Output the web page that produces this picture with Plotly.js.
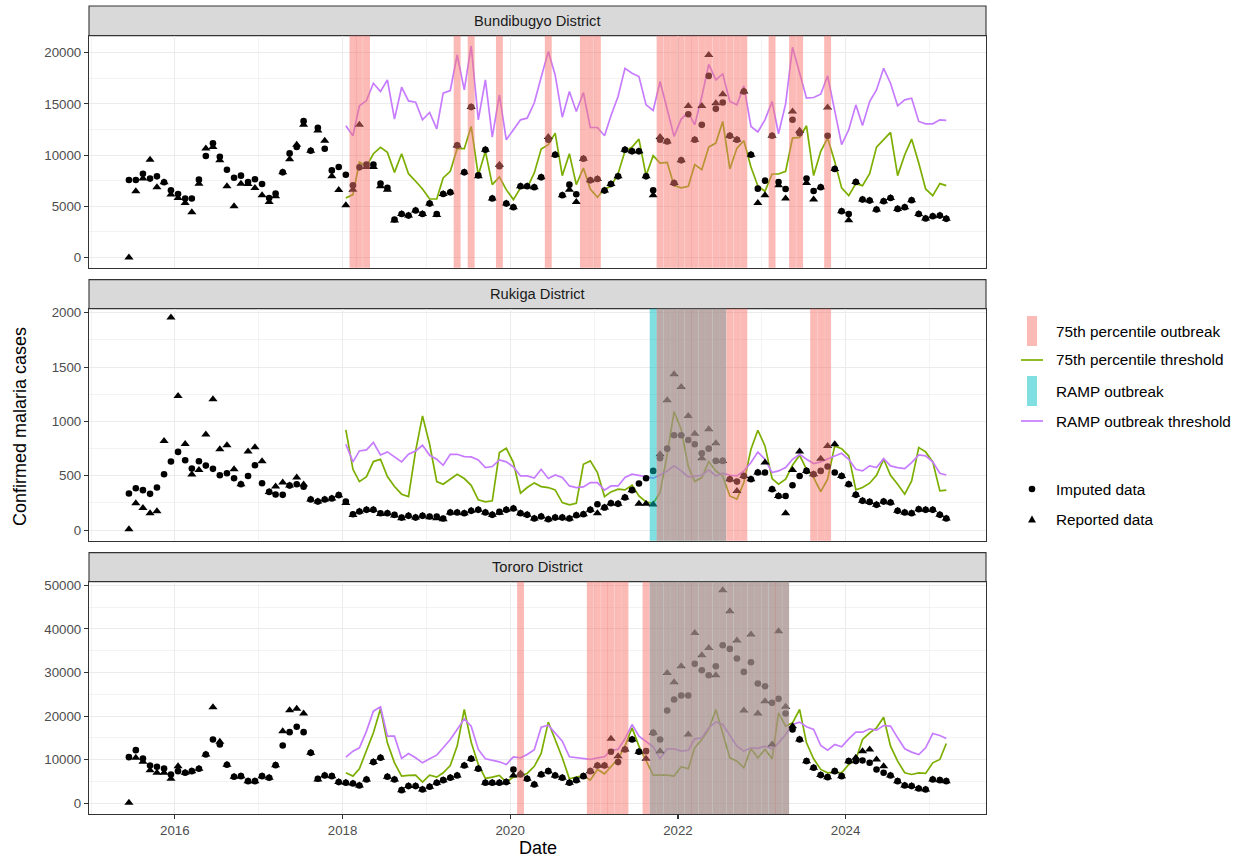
<!DOCTYPE html>
<html><head><meta charset="utf-8">
<script src="https://cdn.plot.ly/plotly-3.0.1.min.js"></script>
<style>html,body{margin:0;padding:0;background:#fff}#chart{width:1244px;height:860px}</style>
</head><body><div id="chart"></div>
<script>
// ---------------- DATA ----------------
const months = [
"2015-06","2015-07","2015-08","2015-09","2015-10","2015-11","2015-12",
"2016-01","2016-02","2016-03","2016-04","2016-05","2016-06","2016-07","2016-08","2016-09","2016-10","2016-11","2016-12",
"2017-01","2017-02","2017-03","2017-04","2017-05","2017-06","2017-07","2017-08","2017-09","2017-10","2017-11","2017-12",
"2018-01","2018-02","2018-03","2018-04","2018-05","2018-06","2018-07","2018-08","2018-09","2018-10","2018-11","2018-12",
"2019-01","2019-02","2019-03","2019-04","2019-05","2019-06","2019-07","2019-08","2019-09","2019-10","2019-11","2019-12",
"2020-01","2020-02","2020-03","2020-04","2020-05","2020-06","2020-07","2020-08","2020-09","2020-10","2020-11","2020-12",
"2021-01","2021-02","2021-03","2021-04","2021-05","2021-06","2021-07","2021-08","2021-09","2021-10","2021-11","2021-12",
"2022-01","2022-02","2022-03","2022-04","2022-05","2022-06","2022-07","2022-08","2022-09","2022-10","2022-11","2022-12",
"2023-01","2023-02","2023-03","2023-04","2023-05","2023-06","2023-07","2023-08","2023-09","2023-10","2023-11","2023-12",
"2024-01","2024-02","2024-03","2024-04","2024-05","2024-06","2024-07","2024-08","2024-09","2024-10","2024-11","2024-12",
"2025-01","2025-02","2025-03"];
const thresholdMonths = months.slice(months.indexOf("2018-01"));

const districtNames = ["Bundibugyo District","Rukiga District","Tororo District"];

const bundibugyoImputed = [7560,7560,8180,7700,7920,7340,6560,
6200,5750,5750,7600,9900,11140,9840,8570,7790,7990,7370,7630,
7180,5810,6230,8310,10160,10780,13310,10420,12660,10620,8500,8830,
8080,7050,8800,9060,9060,7210,6790,3700,4250,4090,4580,4250,
5260,4250,6200,6360,10940,8310,14680,8020,10520,5750,8900,5260,
4900,6950,6950,6850,7820,11500,10030,6070,7110,6170,9640,7530,
7660,6530,7180,7920,10520,10360,10360,7920,6560,11500,11330,7270,
9480,13990,11490,12950,17730,14510,15130,11880,11490,16200,10030,6720,
7500,11880,7370,6690,13440,12140,7700,6490,6850,11880,8640,4510,
4250,7370,5650,5550,4680,5490,5810,4740,4900,5580,4250,3800,
4030,4090,3770];
const bundibugyoReported = [0,6460,7700,9550,6850,7340,6140,
5810,5320,4420,7200,10650,10780,9480,6950,5000,7200,7180,6790,
6070,5420,5970,8310,9580,11000,12950,10420,12400,11400,7920,6590,
5100,6620,12950,8830,8830,6950,6620,3600,4250,4090,4580,4250,
5260,4150,6200,6360,10940,8310,14680,7920,10520,5750,9060,5260,
4900,6950,6950,6850,7820,11750,10030,6070,6620,5420,9640,7530,
7660,6530,7180,7920,10520,10360,10360,7920,6070,11750,11330,7270,
9480,14800,11490,14800,19770,15060,15940,11880,11490,16200,10030,5320,
6070,11880,7050,5750,14250,12370,7270,5650,6850,14640,8640,4510,
3640,7370,5650,5550,4680,5490,5810,4740,4900,5580,4250,3800,
4030,4090,3770];
const bundibugyoThreshold75 = [5810,6140,9320,8900,10130,10750,10260,8310,10130,8180,7440,6690,
5710,5710,7760,8410,10620,10620,12790,8020,10360,7110,7860,6620,
5650,6790,6790,8250,10580,11010,12140,7990,10130,7110,8730,6690,
5880,6690,6950,8180,10360,10780,11560,7990,9940,9220,9290,7010,
6790,6950,9060,8570,10780,11170,13280,8640,10680,11400,8830,6980,
6460,8150,8150,8410,11660,11720,12860,7990,10360,11660,9380,6790,
6040,7210,7010,8180,10780,11490,12210,7990,10030,11560,9220,6690,
6040,7210,7010];
const bundibugyoThresholdRamp = [12860,11880,14810,15320,17010,16200,17340,13510,16620,15290,15160,13440,
14160,12560,16040,16300,19770,16360,20650,13440,17340,11750,15880,11490,
12470,13440,13600,15100,17600,20100,17820,13700,16200,14250,16100,12690,
12690,11880,13830,15710,18470,17990,17660,14900,14350,17180,14480,11820,
13510,14160,12950,15710,18860,17340,17920,15230,14900,16750,12790,12260,
13440,15230,12080,15000,20520,17990,15550,15620,15940,17730,14420,11010,
12470,14900,12890,15230,16360,18470,17010,14810,15390,15550,13280,13050,
13050,13440,13380];
const bundibugyoOutbreak75 = ["2018-02","2018-03","2018-04","2019-05","2019-07","2019-11","2020-06",
"2020-11","2020-12","2021-01",
"2021-10","2021-11","2021-12","2022-01","2022-02","2022-03","2022-04","2022-05","2022-06","2022-07","2022-08","2022-09","2022-10",
"2023-02","2023-05","2023-06","2023-10"];
const bundibugyoOutbreakRamp = [];

const rukigaImputed = [337,386,368,334,392,515,631,
720,643,567,634,594,564,505,524,478,423,499,597,
432,352,328,325,410,423,400,282,263,282,291,322,
263,147,172,187,187,156,156,141,116,132,116,132,
126,125,107,162,162,156,178,187,162,141,168,187,
199,156,141,107,126,101,116,116,107,138,147,187,
239,208,248,242,300,368,429,478,545,662,750,873,
873,830,790,707,750,637,637,469,447,499,469,530,
530,377,315,315,413,499,545,515,545,585,530,499,
423,325,270,260,233,263,254,178,162,156,193,187,
187,141,107];
const rukigaReported = [9,248,205,156,175,821,1957,
1234,793,511,554,879,1204,744,781,560,423,723,763,
634,352,401,438,410,484,420,282,263,282,291,322,
250,140,172,187,187,150,156,135,110,132,116,132,
120,110,100,162,162,156,178,187,162,141,160,187,
199,156,141,107,126,101,116,116,107,138,147,187,
156,208,248,242,300,368,242,242,236,698,1194,1433,
1317,1050,888,662,928,799,637,469,361,499,469,530,
622,377,315,156,554,723,545,515,658,775,790,499,
423,325,270,260,233,263,254,178,162,156,193,187,
187,141,107];
const rukigaThreshold75 = [922,560,447,493,631,652,493,401,331,309,729,1051,
790,447,423,469,515,475,413,279,260,270,714,753,
622,340,392,435,401,392,371,254,233,248,606,637,
530,309,352,377,371,413,315,260,245,346,698,1090,
928,585,447,484,631,545,499,315,285,438,744,919,
775,475,423,469,597,689,560,484,355,469,775,750,
683,371,392,432,505,652,505,423,331,453,760,720,
628,361,368];
const rukigaThresholdRamp = [790,628,729,738,806,692,720,677,628,698,729,781,
689,652,597,698,698,677,674,646,576,585,646,628,
582,499,499,480,560,475,508,484,407,392,398,438,
438,368,407,407,484,515,505,493,478,508,545,591,
545,490,499,505,554,499,524,505,499,545,622,718,
652,530,545,576,652,698,652,613,628,658,683,707,
652,560,545,591,576,658,591,576,567,622,692,683,
628,524,508];
const rukigaOutbreak75 = ["2021-10","2021-11","2021-12","2022-01","2022-02","2022-03","2022-04","2022-05","2022-06","2022-07","2022-08","2022-09","2022-10",
"2023-08","2023-09","2023-10"];
const rukigaOutbreakRamp = ["2021-09","2021-10","2021-11","2021-12","2022-01","2022-02","2022-03","2022-04","2022-05","2022-06","2022-07"];

const tororoImputed = [10610,12210,10300,8700,8400,8020,6640,
7400,7020,7400,7940,11220,14660,13510,8860,6110,6260,5110,5110,
6260,5880,8780,13280,16340,17560,16340,11600,5650,6410,6260,4890,
4730,4580,4120,5500,9470,10460,6110,5500,3050,3970,3970,3210,
3820,4730,5340,5880,6410,8700,10230,7940,4730,4730,4730,4890,
7790,6640,5650,4350,6640,7400,6410,5880,4730,5340,6260,7400,
8700,8700,11830,9470,12370,14660,11830,11990,16180,14660,21300,23820,
24730,24730,31990,30540,29390,31450,36260,35420,33210,30150,32370,27480,
26870,23050,23970,20610,16950,14660,9690,8170,6490,6030,7400,6260,
9690,9690,9850,9310,7790,7020,6410,5110,4120,3970,3440,3210,
5500,5340,5110];
const tororoReported = [150,10460,9540,7630,7020,7020,5650,
8550,7020,7400,7940,11220,22060,14120,8860,6110,6260,5110,5110,
6260,5880,8780,16570,21380,21680,20610,11600,5500,6410,6260,4890,
4730,4580,4120,5500,9470,10460,6110,5500,3050,3970,3970,3210,
3820,4730,5340,5880,6410,8700,10230,7940,4730,4730,4730,4890,
6410,6870,5650,4350,6640,7400,6410,5880,4730,5340,6260,7400,
8700,8700,14810,10840,12370,14660,11830,10230,16180,11990,29920,27790,
31450,15800,39090,33970,35650,29390,48860,44050,37330,21300,38700,20610,
23440,13510,39470,22140,17710,14660,9690,8170,6490,6030,7400,6260,
9690,10460,11990,12370,10080,8550,6410,5110,4120,3970,3440,3210,
5500,5340,5110];
const tororoThreshold75 = [7020,6260,7940,11990,16180,21680,13890,9310,6260,6410,6490,4890,
6490,6030,7020,8700,13130,21530,14050,8930,5730,6030,6410,4890,
6030,6410,6870,8500,11450,18630,14660,10460,5650,6030,6410,5340,
7790,6790,8400,10230,13130,17330,13130,9920,6490,6490,6490,6260,
8400,7940,12750,14660,16950,21530,15800,10460,9690,8170,12600,10460,
12370,10230,20760,17710,18470,21530,13890,10230,7790,7020,7180,7020,
8930,10080,14660,16180,17330,19770,13130,9690,7020,6640,7020,6870,
9310,10080,13740];
const tororoThresholdRamp = [10610,11990,12750,16570,21150,22140,15420,15420,10310,11450,10460,9310,
10230,11070,12750,14660,16950,19390,17710,12370,10230,9920,9540,8930,
10690,10460,11220,12290,17450,17940,16180,14280,10690,10460,10230,10080,
10460,10690,12210,12370,14810,18090,15420,14280,12980,10230,12520,12520,
11990,12210,14810,15040,17330,18700,18090,15570,13130,11990,12750,12640,
13130,12520,13890,15800,18090,18630,17560,16950,13280,12210,13510,12980,
14810,16340,16340,17100,16800,17860,17710,15040,12520,11760,11220,12750,
16030,15570,14890];
const tororoOutbreak75 = ["2020-02","2020-12","2021-01","2021-02","2021-03","2021-04","2021-05",
"2021-08","2021-09","2021-10","2021-11","2021-12","2022-01","2022-02","2022-03","2022-04","2022-05","2022-06",
"2022-07","2022-08","2022-09","2022-10","2022-11","2022-12","2023-01","2023-02","2023-03","2023-04"];
const tororoOutbreakRamp = ["2021-09","2021-10","2021-11","2021-12","2022-01","2022-02","2022-03","2022-04","2022-05","2022-06",
"2022-07","2022-08","2022-09","2022-10","2022-11","2022-12","2023-01","2023-02","2023-03","2023-04"];

const xTickLabels = ["2016","2018","2020","2022","2024"];
const xMinorYears = ["2015","2017","2019","2021","2023","2025"];
const bundibugyoTicks = [0,5000,10000,15000,20000];
const bundibugyoMinor = [2500,7500,12500,17500];
const rukigaTicks = [0,500,1000,1500,2000];
const rukigaMinor = [250,750,1250,1750];
const tororoTicks = [0,10000,20000,30000,40000,50000];
const tororoMinor = [5000,15000,25000,35000,45000];

const legendLabels = ["75th percentile outbreak","75th percentile threshold","RAMP outbreak","RAMP outbreak threshold","Imputed data","Reported data"];

// ---------------- STYLE / BUILD ----------------
const C75 = "#7CAE00", CRAMP = "#C77CFF";
const FILL75 = "rgba(248,118,109,0.5)", FILLRAMP = "rgba(0,191,196,0.5)";
const FONT = '"Liberation Sans", Arial, Helvetica, sans-serif';
const TICK_SIZE = 13.3, STRIP_SIZE = 14.7, LEGEND_SIZE = 15.3, TITLE_SIZE = 18;
const mid = m => m + "-15";
function shiftDays(m, d){const p=m.split("-").map(Number);return new Date(Date.UTC(p[0],p[1]-1,15)+d*86400000).toISOString().slice(0,10);}

const districts = [
 {imputed:bundibugyoImputed, reported:bundibugyoReported, t75:bundibugyoThreshold75, tr:bundibugyoThresholdRamp, o75:bundibugyoOutbreak75, or:bundibugyoOutbreakRamp, ticks:bundibugyoTicks, minor:bundibugyoMinor, range:[-1000,21650], dom:[0.6761,0.9632]},
 {imputed:rukigaImputed, reported:rukigaReported, t75:rukigaThreshold75, tr:rukigaThresholdRamp, o75:rukigaOutbreak75, or:rukigaOutbreakRamp, ticks:rukigaTicks, minor:rukigaMinor, range:[-97,2037], dom:[0.3382,0.6254]},
 {imputed:tororoImputed, reported:tororoReported, t75:tororoThreshold75, tr:tororoThresholdRamp, o75:tororoOutbreak75, or:tororoOutbreakRamp, ticks:tororoTicks, minor:tororoMinor, range:[-2420,50820], dom:[0,0.2875]}
];
const stripDom = [[0.9632,1.0],[0.6254,0.6614],[0.2875,0.3235]];

const traces = [], shapes = [], annotations = [];
const layout = {
  width:1244, height:860,
  margin:{l:89, r:258, t:6, b:46},
  paper_bgcolor:"#ffffff", plot_bgcolor:"#ffffff",
  font:{family:FONT, color:"#000000"},
  showlegend:false, hovermode:false
};
const xRange = ["2014-12-23","2025-09-04"];

districts.forEach((d, k) => {
  const s = k === 0 ? "" : String(k+1);
  const xa = "x"+s, ya = "y"+s;
  traces.push({type:"scatter", mode:"lines", x:thresholdMonths.map(mid), y:d.t75, xaxis:xa, yaxis:ya, line:{color:C75, width:1.7}});
  traces.push({type:"scatter", mode:"lines", x:thresholdMonths.map(mid), y:d.tr, xaxis:xa, yaxis:ya, line:{color:CRAMP, width:1.7}});
  traces.push({type:"scatter", mode:"markers", x:months.map(mid), y:d.reported, xaxis:xa, yaxis:ya, marker:{symbol:"triangle-up", size:8, color:"#000000"}});
  traces.push({type:"scatter", mode:"markers", x:months.map(mid), y:d.imputed, xaxis:xa, yaxis:ya, marker:{symbol:"circle", size:6.6, color:"#000000"}});
  d.or.forEach(m => shapes.push({type:"rect", xref:xa, yref:ya+" domain", x0:shiftDays(m,-15), x1:shiftDays(m,15), y0:0, y1:1, fillcolor:FILLRAMP, line:{width:0}, layer:"above"}));
  d.o75.forEach(m => shapes.push({type:"rect", xref:xa, yref:ya+" domain", x0:shiftDays(m,-15), x1:shiftDays(m,15), y0:0, y1:1, fillcolor:FILL75, line:{width:0}, layer:"above"}));
  const last = k === 2;
  const xax = {type:"date", range:xRange, anchor:ya, domain:[0,1],
    showline:true, mirror:true, linecolor:"#333333", linewidth:1.1,
    showgrid:true, gridcolor:"#EBEBEB", gridwidth:1.1, zeroline:false,
    tickmode:"array", tickvals:xTickLabels.map(y=>y+"-01-01"), ticktext:xTickLabels,
    showticklabels:last, ticks:last?"outside":"", ticklen:4, tickwidth:1.1, tickcolor:"#333333",
    tickfont:{size:TICK_SIZE, color:"#4D4D4D", family:FONT},
    minor:{tickmode:"array", tickvals:xMinorYears.map(y=>y+"-01-01"), showgrid:true, gridcolor:"#EBEBEB", gridwidth:0.6, ticks:""}};
  if (k) xax.matches = "x";
  layout["xaxis"+s] = xax;
  layout["yaxis"+s] = {range:d.range, domain:d.dom, anchor:xa,
    showline:true, mirror:true, linecolor:"#333333", linewidth:1.1,
    showgrid:true, gridcolor:"#EBEBEB", gridwidth:1.1, zeroline:false,
    tickmode:"array", tickvals:d.ticks, ticktext:d.ticks.map(String),
    ticks:"outside", ticklen:4, tickwidth:1.1, tickcolor:"#333333",
    tickfont:{size:TICK_SIZE, color:"#4D4D4D", family:FONT},
    minor:{tickmode:"array", tickvals:d.minor, showgrid:true, gridcolor:"#EBEBEB", gridwidth:0.6, ticks:""}};
  // strip
  shapes.push({type:"rect", xref:"paper", yref:"paper", x0:0, x1:1, y0:stripDom[k][0], y1:stripDom[k][1], fillcolor:"#D9D9D9", line:{color:"#333333", width:1.1}, layer:"below"});
  annotations.push({xref:"paper", yref:"paper", x:0.5, y:(stripDom[k][0]+stripDom[k][1])/2, text:districtNames[k], showarrow:false, xanchor:"center", yanchor:"middle", font:{size:STRIP_SIZE, color:"#1A1A1A", family:FONT}});
});

// axis titles
annotations.push({xref:"paper", yref:"paper", x:0.5, y:(814-848)/808, text:"Date", showarrow:false, xanchor:"center", yanchor:"middle", font:{size:TITLE_SIZE, color:"#000000", family:FONT}});
annotations.push({xref:"paper", yref:"paper", x:(20-89)/897, y:(814-427)/808, text:"Confirmed malaria cases", textangle:-90, showarrow:false, xanchor:"center", yanchor:"middle", font:{size:TITLE_SIZE, color:"#000000", family:FONT}});

// legend (manual, ggplot style)
const px = v => (v-89)/897, py = v => (814-v)/808;
const legY = [331,360,391,421,489,519];
shapes.push({type:"rect", xref:"paper", yref:"paper", x0:px(1027), x1:px(1037), y0:py(346), y1:py(316), fillcolor:FILL75, line:{width:0}});
shapes.push({type:"line", xref:"paper", yref:"paper", x0:px(1021), x1:px(1043), y0:py(360), y1:py(360), line:{color:C75, width:1.7}});
shapes.push({type:"rect", xref:"paper", yref:"paper", x0:px(1027), x1:px(1037), y0:py(406), y1:py(376), fillcolor:FILLRAMP, line:{width:0}});
shapes.push({type:"line", xref:"paper", yref:"paper", x0:px(1021), x1:px(1043), y0:py(421), y1:py(421), line:{color:CRAMP, width:1.7}});
shapes.push({type:"circle", xref:"paper", yref:"paper", x0:px(1028.7), x1:px(1035.3), y0:py(492.3), y1:py(485.7), fillcolor:"#000000", line:{width:0}});
shapes.push({type:"path", xref:"paper", yref:"paper", path:`M ${px(1028)} ${py(522.5)} L ${px(1036)} ${py(522.5)} L ${px(1032)} ${py(515.5)} Z`, fillcolor:"#000000", line:{width:0}});
legendLabels.forEach((t,i) => annotations.push({xref:"paper", yref:"paper", x:px(1054), y:py(legY[i]), text:t, showarrow:false, xanchor:"left", yanchor:"middle", font:{size:LEGEND_SIZE, color:"#000000", family:FONT}}));

layout.shapes = shapes;
layout.annotations = annotations;
Plotly.newPlot("chart", traces, layout, {displayModeBar:false, staticPlot:true});
</script>
</body></html>
